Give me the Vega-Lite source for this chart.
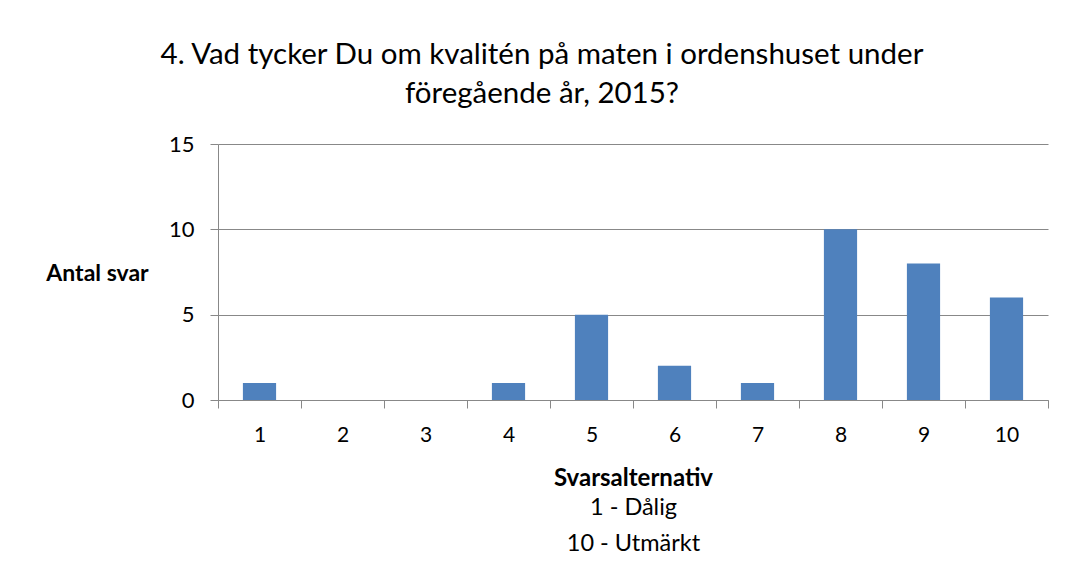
{
  "$schema": "https://vega.github.io/schema/vega-lite/v6.json",
  "width": 830,
  "height": 256,
  "autosize": {"type": "none"},
  "padding": {"left": 218, "top": 144, "right": 20, "bottom": 177},
  "background": "white",
  "config": {"font": "Lato", "view": {"stroke": null}},
  "title": {
    "text": ["4. Vad tycker Du om kvalitén på maten i ordenshuset under", "föregående år, 2015?"],
    "fontSize": 29.5,
    "fontWeight": "normal",
    "lineHeight": 39,
    "anchor": "middle",
    "frame": "group",
    "dx": -91,
    "offset": 24,
    "color": "#000000"
  },
  "data": {
    "values": [
      {"svar": "1", "antal": 1},
      {"svar": "2", "antal": 0},
      {"svar": "3", "antal": 0},
      {"svar": "4", "antal": 1},
      {"svar": "5", "antal": 5},
      {"svar": "6", "antal": 2},
      {"svar": "7", "antal": 1},
      {"svar": "8", "antal": 10},
      {"svar": "9", "antal": 8},
      {"svar": "10", "antal": 6}
    ]
  },
  "layer": [
    {
      "mark": {"type": "bar", "color": "#4F81BD", "width": {"band": 0.4}},
      "encoding": {
        "x": {
          "field": "svar", "type": "ordinal", "sort": null,
          "scale": {"paddingInner": 0, "paddingOuter": 0},
          "axis": {
            "orient": "bottom",
            "title": "Svarsalternativ", "titleFontWeight": "bold", "titleFontSize": 24, "titleColor": "#000000",
            "titleY": 78, "titleBaseline": "middle",
            "labelAngle": 0, "labelFontSize": 21, "labelColor": "#000000", "labelPadding": 16,
            "tickBand": "extent", "tickSize": 8, "tickColor": "#888888", "domainColor": "#888888", "grid": false
          }
        },
        "y": {
          "field": "antal", "type": "quantitative",
          "scale": {"domain": [0, 15], "nice": false},
          "axis": {
            "values": [0, 5, 10, 15], "title": "Antal svar", "titleAngle": 0, "titleFontWeight": "bold", "titleFontSize": 23,
            "titleColor": "#000000", "titleX": -121, "titleY": 129, "titleAlign": "center", "titleBaseline": "middle",
            "labelFontSize": 22, "labelColor": "#000000", "labelPadding": 16, "tickSize": 8,
            "tickColor": "#888888", "domainColor": "#888888", "gridColor": "#888888", "grid": true
          }
        }
      }
    },
    {
      "mark": {"type": "bar", "opacity": 0, "width": {"band": 0.4}},
      "encoding": {
        "x": {
          "field": "svar", "type": "ordinal", "sort": null,
          "axis": {
            "orient": "bottom",
            "title": ["1 - Dålig", "10 - Utmärkt"], "labels": false, "ticks": false, "domain": false, "grid": false,
            "titleFontWeight": "normal", "titleFontSize": 23.5, "titleLineHeight": 36, "titleColor": "#000000",
            "titleBaseline": "middle", "titleY": 107
          }
        },
        "y": {"field": "antal", "type": "quantitative"}
      }
    }
  ],
  "resolve": {"axis": {"x": "independent"}}
}
